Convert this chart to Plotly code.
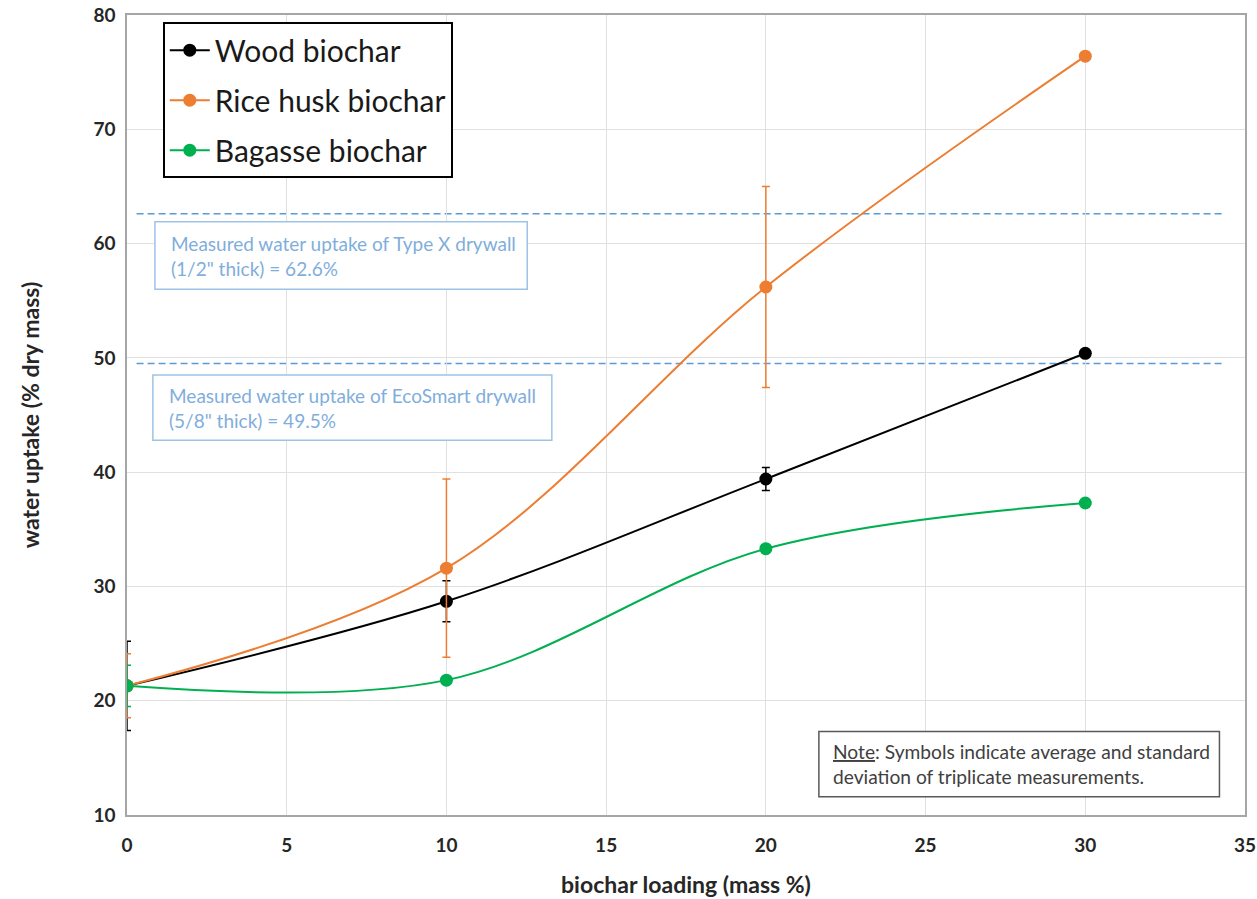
import plotly.graph_objects as go

# ---- data ----
loading = [0, 10, 20, 30]
wood = [21.3, 28.7, 39.4, 50.4]
wood_sd = [3.9, 1.8, 1.0, 0.3]
rice = [21.3, 31.6, 56.2, 76.4]
rice_sd = [2.8, 7.8, 8.8, 0.3]
bagasse = [21.3, 21.8, 33.3, 37.3]
bagasse_sd = [1.8, 0.3, 0.3, 0.3]
series_names = ["Wood biochar", "Rice husk biochar", "Bagasse biochar"]
ref_levels = [62.6, 49.5]
ref_texts = [
    "Measured water uptake of Type X drywall<br>(1/2\" thick) = 62.6%",
    "Measured water uptake of EcoSmart drywall<br>(5/8\" thick) = 49.5%",
]
note_text = "<u>Note</u>: Symbols indicate average and standard<br>deviation of triplicate measurements."

colors = ["#000000", "#ED7D31", "#00B050"]
FONT = "Lato, 'Open Sans', sans-serif"

fig = go.Figure()
for i, (name, ys, sd, c) in enumerate(zip(series_names, [wood, rice, bagasse], [wood_sd, rice_sd, bagasse_sd], colors)):
    fig.add_trace(go.Scatter(
        x=loading, y=ys, name=name, mode="lines+markers", legendgroup=f"g{i}",
        line=dict(color=c, width=2, shape="spline", smoothing=1.0),
        marker=dict(color=c, size=13),
        error_y=dict(type="data", array=sd, visible=True, color=c, thickness=1.5, width=4),
    ))

ref_color = "#5B9BD5"
for lvl in ref_levels:
    fig.add_shape(type="line", xref="x", yref="y", x0=0.3, x1=34.3, y0=lvl, y1=lvl,
                  line=dict(color=ref_color, width=1.5, dash="7px,4px"), layer="below")

# reference text boxes
boxes = [(0.875, 12.53, 61.9, 56.0), (0.81, 13.3, 48.5, 42.8)]
for (x0, x1, y0, y1), txt in zip(boxes, ref_texts):
    fig.add_shape(type="rect", xref="x", yref="y", x0=x0, x1=x1, y0=y1, y1=y0,
                  line=dict(color="#9DC3E6", width=1.5), fillcolor="white")
    fig.add_annotation(x=x0 + 0.45, y=(y0 + y1) / 2, xref="x", yref="y", text=txt,
                       showarrow=False, xanchor="left", yanchor="middle", align="left",
                       font=dict(family=FONT, size=19, color="#7FAEDB"))

fig.add_shape(type="rect", xref="x", yref="y", x0=21.66, x1=34.2, y0=11.6, y1=17.3,
              line=dict(color="#595959", width=1.5), fillcolor="white")
fig.add_annotation(x=22.05, y=14.45, xref="x", yref="y", text=note_text, showarrow=False,
                   xanchor="left", yanchor="middle", align="left",
                   font=dict(family=FONT, size=19.2, color="#404040"))

fig.update_layout(
    width=1257, height=899,
    margin=dict(l=127, r=12, t=15, b=84),
    paper_bgcolor="white", plot_bgcolor="white",
    font=dict(family=FONT),
    legend=dict(x=0.032, y=0.991, xanchor="left", yanchor="top",
                bordercolor="#000000", borderwidth=2, bgcolor="white",
                font=dict(family=FONT, size=30, color="#1a1a1a"),
                tracegroupgap=8, itemwidth=40),
    xaxis=dict(range=[0, 35], tick0=0, dtick=5, showgrid=True, gridcolor="#E0E0E0",
               zeroline=False, showline=True, linecolor="#A6A6A6", linewidth=1.5, mirror=True,
               automargin=False, ticks="", ticklabelstandoff=12, ticklabeloverflow="allow",
               tickfont=dict(family=FONT, size=19, color="#262626", weight="bold"),
               title=dict(text="<b>biochar loading (mass %)</b>", font=dict(family=FONT, size=23, color="#262626"),
                          standoff=22)),
    yaxis=dict(range=[10, 80], tick0=10, dtick=10, showgrid=True, gridcolor="#E0E0E0",
               zeroline=False, showline=True, linecolor="#A6A6A6", linewidth=1.5, mirror=True,
               automargin=False, ticks="", ticklabelstandoff=6, ticklabeloverflow="allow",
               tickfont=dict(family=FONT, size=19, color="#262626", weight="bold"),
               title=dict(text="<b>water uptake (% dry mass)</b>", font=dict(family=FONT, size=23, color="#262626"),
                          standoff=47)),
)

fig.write_html(
    "out.html",
    config={"displayModeBar": False},
    post_script="document.body.style.margin='0';document.documentElement.style.overflow='hidden';",
)
